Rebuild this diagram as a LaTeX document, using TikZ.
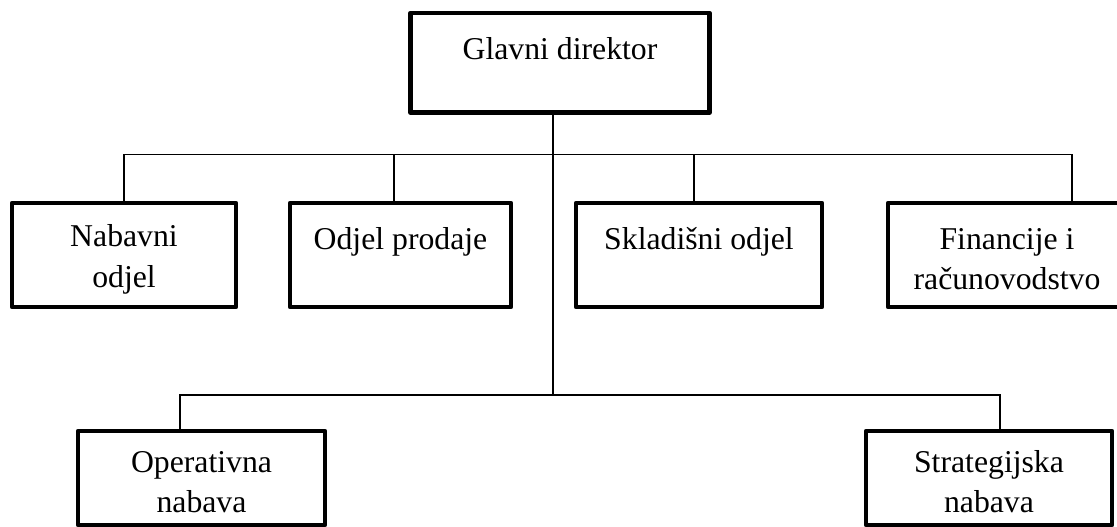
\documentclass[tikz,border=0pt]{standalone}
\usepackage{fontspec}
\setmainfont{Liberation Serif}
\begin{document}
\begin{tikzpicture}[x=0.75pt,y=-0.75pt,
  box/.style={draw, line width=3.4pt, line join=round, inner sep=0pt, minimum height=78pt},
  conn/.style={line width=1.4pt},
  lbl/.style={inner sep=0pt, align=center, font=\fontsize{23.8}{30.5}\selectfont}]
\clip (0,0) rectangle (1117,527);
% boxes
\node[box, minimum width=224.25pt, minimum height=74.6pt] (top) at (560,62.75) {};
\node[box, minimum width=168pt] (nab) at (124,255) {};
\node[box, minimum width=165.75pt] (odj) at (400.5,255) {};
\node[box, minimum width=184.5pt] (skl) at (699,255) {};
\node[box, minimum width=178.5pt] (fin) at (1007,255) {};
\node[box, minimum width=185.25pt, minimum height=70.5pt] (ope) at (201.5,478) {};
\node[box, minimum width=184.5pt, minimum height=70.5pt] (str) at (989,478) {};
% labels
\node[lbl, anchor=base] (topt) at (560,60) {Glavni direktor};
\node[lbl, anchor=north] (nabt) at (124,224.5) {Nabavni\\odjel};
\node[lbl, anchor=base] (odjt) at (400.5,250) {Odjel prodaje};
\node[lbl, anchor=base] (sklt) at (699,250) {Skladišni odjel};
\node[lbl, anchor=north] (fint) at (1007,228) {Financije i\\računovodstvo};
\node[lbl, anchor=north] (opet) at (201.5,451) {Operativna\\nabava};
\node[lbl, anchor=north] (strt) at (989,450) {Strategijska\\nabava};
% connector coordinates
\coordinate (hub) at (553,154.5);
\coordinate (hub2) at (553,395);
\coordinate (ox) at (394,0);
\coordinate (sx) at (694,0);
\coordinate (fx) at (1072,0);
\coordinate (px) at (180,0);
\coordinate (qx) at (1000,0);
% connectors
\draw[conn] (top.south -| hub) -- (hub2);
\draw[conn] (nab.north) |- (hub) -| (fin.north -| fx);
\draw[conn] (odj.north -| ox) -- (ox |- hub);
\draw[conn] (skl.north -| sx) -- (sx |- hub);
\draw[conn] (ope.north -| px) |- (hub2) -| (str.north -| qx);
\end{tikzpicture}
\end{document}
